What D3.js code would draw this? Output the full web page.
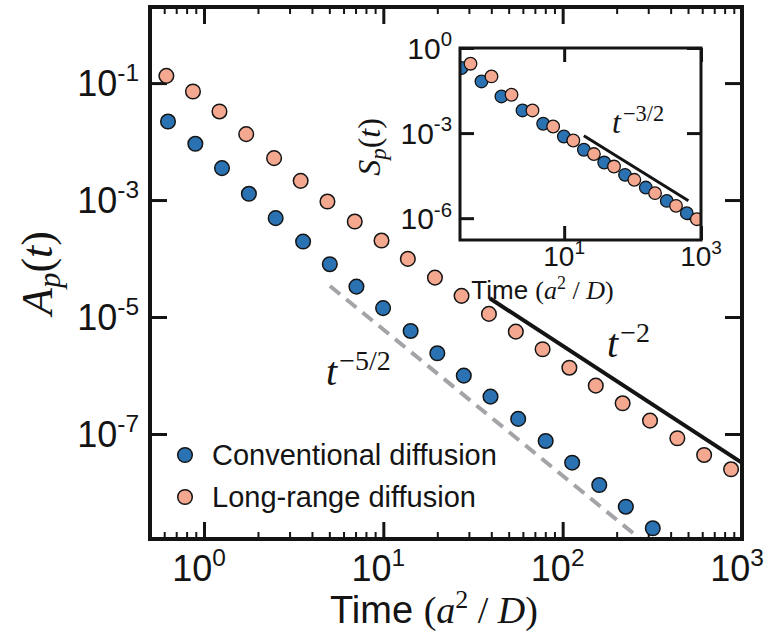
<!DOCTYPE html>
<html>
<head>
<meta charset="utf-8">
<script src="https://cdn.jsdelivr.net/npm/d3@7"></script>
<style>
  body { margin: 0; background: #fff; }
</style>
</head>
<body>
<div id="chart"></div>
<script>
// main panel: survival-type quantity A_p(t)
var tConv = [0.63, 0.895, 1.26, 1.78, 2.51, 3.57, 5.03, 7.08, 9.97, 14.2, 20.0, 28.1, 39.6, 56.5, 80.4, 113, 160, 225, 318];
var aConv = [0.022, 9.16e-3, 3.52e-3, 1.28e-3, 4.90e-4, 1.95e-4, 8.00e-5, 3.31e-5, 1.42e-5, 5.78e-6, 2.40e-6, 9.93e-7, 4.35e-7, 1.81e-7, 7.59e-8, 3.23e-8, 1.34e-8, 5.70e-9, 2.44e-9];
var tLong = [0.617, 0.868, 1.22, 1.72, 2.46, 3.46, 4.88, 6.93, 9.77, 13.7, 19.4, 27.3, 38.8, 54.8, 77.3, 109, 153, 216, 307, 436, 615, 869];
var aLong = [0.133, 0.0718, 0.0327, 0.0134, 5.21e-3, 2.13e-3, 9.42e-4, 4.29e-4, 2.03e-4, 9.86e-5, 4.72e-5, 2.30e-5, 1.13e-5, 5.62e-6, 2.81e-6, 1.36e-6, 6.70e-7, 3.35e-7, 1.69e-7, 8.45e-8, 4.38e-8, 2.49e-8];

// inset: S_p(t)
var tConvIn = [0.315, 0.618, 1.21, 2.46, 4.93, 9.9, 19.4, 38.5, 77.5, 156, 316, 620];
var sConvIn = [0.197, 0.0662, 0.0196, 6.28e-3, 2.13e-3, 7.59e-4, 2.58e-4, 9.16e-5, 3.37e-5, 1.20e-5, 4.07e-6, 1.50e-6];
var tLongIn = [0.427, 0.865, 1.70, 3.44, 6.90, 13.6, 27.2, 53.5, 106, 213, 431, 869];
var sLongIn = [0.279, 0.0995, 0.0225, 6.28e-3, 1.71e-3, 5.48e-4, 1.82e-4, 6.62e-5, 2.25e-5, 7.62e-6, 2.72e-6, 9.20e-7];

// power-law guides: [t start, t end, value at start, exponent]
var guideConv = [5.04, 400, 3.39e-5, -2.5];
var guideLong = [39.2, 1000, 2.09e-5, -2];
var guideInset = [19.4, 655, 8.04e-4, -1.5];

var xMajor = [1, 10, 100, 1000];
var xMinor = [0.6, 0.7, 0.8, 0.9, 2, 3, 4, 5, 6, 7, 8, 9, 20, 30, 40, 50, 60, 70, 80, 90, 200, 300, 400, 500, 600, 700, 800, 900];
var yMajor = [1e-1, 1e-3, 1e-5, 1e-7];
var insetXMajor = [10, 1000];
var insetYMajor = [1, 1e-3, 1e-6];
var legendLabels = ["Conventional diffusion", "Long-range diffusion"];

var blue = "#2b72b3", pink = "#f5a890", ink = "#141414";
var sans = "'Liberation Sans', Arial, sans-serif";
var serif = "'Liberation Serif', 'Times New Roman', serif";

var margin = {top: 7, right: 34, bottom: 101, left: 150};
var width = 776 - margin.left - margin.right,
    height = 640 - margin.top - margin.bottom;

var svg = d3.select("#chart").append("svg")
    .attr("width", 776)
    .attr("height", 640);

var g = svg.append("g")
    .attr("transform", "translate(" + margin.left + "," + margin.top + ")");

var x = d3.scaleLog().domain([0.5, 1000]).range([0, width]);
var y = d3.scaleLog().domain([2, 1.6e-9]).range([0, height]);

svg.append("defs").append("clipPath").attr("id", "mainClip")
  .append("rect").attr("width", width).attr("height", height);

function ticks(sel, axisFn, scale, vals, size, sw) {
  sel.call(axisFn(scale).tickValues(vals).tickSize(size).tickFormat(""));
  sel.select(".domain").remove();
  sel.selectAll(".tick line").attr("stroke", ink).attr("stroke-width", sw);
}

function powLabel(sel, exp, fs) {
  sel.append("tspan").text("10");
  sel.append("tspan")
      .attr("dy", -fs * 0.42)
      .style("font-size", (fs * 0.68) + "px")
      .text(exp);
}

function mathPow(parent, px, py, base, exp, fs) {
  var t = parent.append("text")
      .attr("x", px).attr("y", py)
      .style("font-family", serif)
      .style("font-size", fs + "px")
      .attr("fill", ink);
  t.append("tspan").style("font-style", "italic").text(base);
  t.append("tspan")
      .attr("dx", 2)
      .attr("dy", -fs * 0.38)
      .style("font-size", (fs * 0.7) + "px")
      .text(exp);
}

// main ticks
ticks(g.append("g").attr("transform", "translate(0," + height + ")"), d3.axisBottom, x, xMajor, -17, 3);
ticks(g.append("g").attr("transform", "translate(0," + height + ")"), d3.axisBottom, x, xMinor, -7, 2);
ticks(g.append("g"), d3.axisTop, x, xMajor, -17, 3);
ticks(g.append("g"), d3.axisTop, x, xMinor, -7, 2);
ticks(g.append("g"), d3.axisLeft, y, yMajor, -17, 3);
ticks(g.append("g").attr("transform", "translate(" + width + ",0)"), d3.axisRight, y, yMajor, -17, 3);

// tick labels
g.selectAll(".xlab")
    .data(xMajor)
  .enter().append("text")
    .attr("class", "xlab")
    .attr("x", function(d) { return x(d) - 5; })
    .attr("y", height + 42)
    .attr("text-anchor", "middle")
    .style("font-family", sans)
    .style("font-size", "36px")
    .attr("fill", ink)
    .each(function(d) { powLabel(d3.select(this), String(Math.round(Math.log10(d))), 36); });

g.selectAll(".ylab")
    .data(yMajor)
  .enter().append("text")
    .attr("class", "ylab")
    .attr("x", -11)
    .attr("y", function(d) { return y(d) + 13; })
    .attr("text-anchor", "end")
    .style("font-family", sans)
    .style("font-size", "36px")
    .attr("fill", ink)
    .each(function(d) { powLabel(d3.select(this), String(Math.round(Math.log10(d))), 36); });

// axis titles
var xt = g.append("text")
    .attr("x", width / 2 - 12)
    .attr("y", height + 84)
    .attr("text-anchor", "middle")
    .style("font-family", sans)
    .style("font-size", "38px")
    .attr("fill", ink);
xt.append("tspan").text("Time ");
xt.append("tspan").style("font-family", serif).text("(");
xt.append("tspan").style("font-family", serif).style("font-style", "italic").text("a");
xt.append("tspan").style("font-family", serif).style("font-size", "26px").attr("dy", -15).text("2");
xt.append("tspan").style("font-family", serif).attr("dy", 15).text(" / ");
xt.append("tspan").style("font-family", serif).style("font-style", "italic").text("D");
xt.append("tspan").style("font-family", serif).text(")");

var yt = svg.append("text")
    .attr("transform", "translate(52,273) rotate(-90)")
    .attr("text-anchor", "middle")
    .style("font-family", serif)
    .style("font-size", "44px")
    .attr("fill", ink);
yt.append("tspan").style("font-style", "italic").text("A");
yt.append("tspan").style("font-style", "italic").style("font-size", "31px").attr("dy", 8).text("p");
yt.append("tspan").attr("dy", -8).text("(");
yt.append("tspan").style("font-style", "italic").text("t");
yt.append("tspan").text(")");

// guide lines
function guidePts(gd) {
  return [gd[0], gd[1]].map(function(t) { return [t, gd[2] * Math.pow(t / gd[0], gd[3])]; });
}

var plot = g.append("g").attr("clip-path", "url(#mainClip)");

plot.append("path")
    .attr("d", d3.line().x(function(d) { return x(d[0]); }).y(function(d) { return y(d[1]); })(guidePts(guideConv)))
    .attr("stroke", "#a3a3a8")
    .attr("stroke-width", 4)
    .attr("stroke-dasharray", "13,8")
    .attr("fill", "none");

plot.append("path")
    .attr("d", d3.line().x(function(d) { return x(d[0]); }).y(function(d) { return y(d[1]); })(guidePts(guideLong)))
    .attr("stroke", ink)
    .attr("stroke-width", 4)
    .attr("fill", "none");

// data points
plot.selectAll(".conv")
    .data(d3.zip(tConv, aConv))
  .enter().append("circle")
    .attr("class", "conv")
    .attr("cx", function(d) { return x(d[0]); })
    .attr("cy", function(d) { return y(d[1]); })
    .attr("r", 7.3)
    .attr("fill", blue)
    .attr("stroke", ink)
    .attr("stroke-width", 1.5);

plot.selectAll(".long")
    .data(d3.zip(tLong, aLong))
  .enter().append("circle")
    .attr("class", "long")
    .attr("cx", function(d) { return x(d[0]); })
    .attr("cy", function(d) { return y(d[1]); })
    .attr("r", 7.3)
    .attr("fill", pink)
    .attr("stroke", ink)
    .attr("stroke-width", 1.5);

// power-law labels
mathPow(svg, 326, 385, "t", "\u22125/2", 40);
mathPow(svg, 607, 357, "t", "\u22122", 40);

// legend
var leg = g.selectAll(".leg")
    .data(legendLabels)
  .enter().append("g")
    .attr("class", "leg")
    .attr("transform", function(d, i) { return "translate(35," + (448 + i * 42) + ")"; });
leg.append("circle")
    .attr("r", 7.3)
    .attr("fill", function(d, i) { return i ? pink : blue; })
    .attr("stroke", ink)
    .attr("stroke-width", 1.5);
leg.append("text")
    .attr("x", 27)
    .attr("y", 10)
    .style("font-family", sans)
    .style("font-size", "29px")
    .attr("fill", ink)
    .text(function(d) { return d; });

// frame
g.append("rect")
    .attr("width", width).attr("height", height)
    .attr("fill", "none")
    .attr("stroke", ink)
    .attr("stroke-width", 4);

// ---------- inset ----------
var iw = 241, ih = 192;
var inset = svg.append("g").attr("transform", "translate(460,48)");
var xi = d3.scaleLog().domain([0.3, 1000]).range([0, iw]);
var yi = d3.scaleLog().domain([1, 1.7e-7]).range([0, ih]);

svg.select("defs").append("clipPath").attr("id", "insetClip")
  .append("rect").attr("width", iw).attr("height", ih);

inset.append("rect").attr("width", iw).attr("height", ih).attr("fill", "#fff");

ticks(inset.append("g").attr("transform", "translate(0," + ih + ")"), d3.axisBottom, xi, insetXMajor, -14, 3);
ticks(inset.append("g"), d3.axisTop, xi, insetXMajor, -14, 3);
ticks(inset.append("g"), d3.axisLeft, yi, insetYMajor, -14, 3);
ticks(inset.append("g").attr("transform", "translate(" + iw + ",0)"), d3.axisRight, yi, insetYMajor, -14, 3);

inset.selectAll(".ixlab")
    .data(insetXMajor)
  .enter().append("text")
    .attr("class", "ixlab")
    .attr("x", function(d) { return xi(d); })
    .attr("y", ih + 26)
    .attr("text-anchor", "middle")
    .style("font-family", sans)
    .style("font-size", "28px")
    .attr("fill", ink)
    .each(function(d) { powLabel(d3.select(this), String(Math.round(Math.log10(d))), 28); });

inset.selectAll(".iylab")
    .data(insetYMajor)
  .enter().append("text")
    .attr("class", "iylab")
    .attr("x", -8)
    .attr("y", function(d) { return yi(d) + 11; })
    .attr("text-anchor", "end")
    .style("font-family", sans)
    .style("font-size", "30px")
    .attr("fill", ink)
    .each(function(d) { powLabel(d3.select(this), String(Math.round(Math.log10(d))), 30); });

var ixt = inset.append("text")
    .attr("x", iw / 2 - 38)
    .attr("y", ih + 59)
    .attr("text-anchor", "middle")
    .style("font-family", sans)
    .style("font-size", "26px")
    .attr("fill", ink);
ixt.append("tspan").text("Time ");
ixt.append("tspan").style("font-family", serif).text("(");
ixt.append("tspan").style("font-family", serif).style("font-style", "italic").text("a");
ixt.append("tspan").style("font-family", serif).style("font-size", "18px").attr("dy", -10).text("2");
ixt.append("tspan").style("font-family", serif).attr("dy", 10).text(" / ");
ixt.append("tspan").style("font-family", serif).style("font-style", "italic").text("D");
ixt.append("tspan").style("font-family", serif).text(")");

var iyt = svg.append("text")
    .attr("transform", "translate(380,147) rotate(-90)")
    .attr("text-anchor", "middle")
    .style("font-family", serif)
    .style("font-size", "32px")
    .attr("fill", ink);
iyt.append("tspan").style("font-style", "italic").text("S");
iyt.append("tspan").style("font-style", "italic").style("font-size", "23px").attr("dy", 6).text("p");
iyt.append("tspan").attr("dy", -6).text("(");
iyt.append("tspan").style("font-style", "italic").text("t");
iyt.append("tspan").text(")");

var iplot = inset.append("g").attr("clip-path", "url(#insetClip)");

iplot.append("path")
    .attr("d", d3.line().x(function(d) { return xi(d[0]); }).y(function(d) { return yi(d[1]); })(guidePts(guideInset)))
    .attr("stroke", ink)
    .attr("stroke-width", 3)
    .attr("fill", "none");

// interleave so that later times sit on top, like the reference
var insetPts = [];
tConvIn.forEach(function(t, i) {
  insetPts.push({t: t, v: sConvIn[i], c: blue});
  insetPts.push({t: tLongIn[i], v: sLongIn[i], c: pink});
});

iplot.selectAll(".ipt")
    .data(insetPts)
  .enter().append("circle")
    .attr("class", "ipt")
    .attr("cx", function(d) { return xi(d.t); })
    .attr("cy", function(d) { return yi(d.v); })
    .attr("r", 6.3)
    .attr("fill", function(d) { return d.c; })
    .attr("stroke", ink)
    .attr("stroke-width", 1.3);

mathPow(svg, 612, 133, "t", "\u22123/2", 32);

inset.append("rect")
    .attr("width", iw).attr("height", ih)
    .attr("fill", "none")
    .attr("stroke", ink)
    .attr("stroke-width", 3);
</script>
</body>
</html>
